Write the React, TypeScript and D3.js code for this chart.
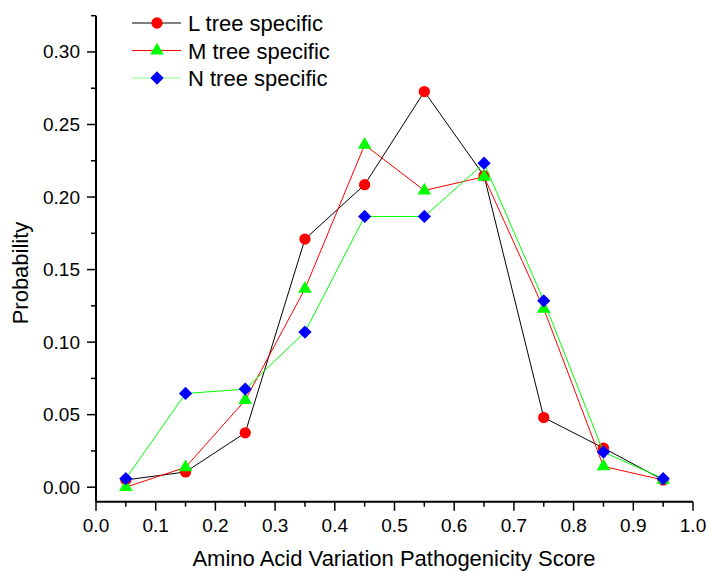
import React, { useEffect, useRef } from "react";
import * as d3 from "d3";

const xValues = [0.05, 0.15, 0.25, 0.35, 0.45, 0.55, 0.65, 0.75, 0.85, 0.95];
const lTree = [0.005, 0.0105, 0.0375, 0.171, 0.2085, 0.2727, 0.2146, 0.048, 0.027, 0.005];
const mTree = [0.0, 0.0137, 0.06, 0.1367, 0.236, 0.2045, 0.214, 0.123, 0.0143, 0.005];
const nTree = [0.0059, 0.0646, 0.0676, 0.1069, 0.1866, 0.1866, 0.2233, 0.1285, 0.0242, 0.0059];
const seriesNames = ["L tree specific", "M tree specific", "N tree specific"];
const xTicks = [0, 0.1, 0.2, 0.3, 0.4, 0.5, 0.6, 0.7, 0.8, 0.9, 1.0];
const yTicks = [0, 0.05, 0.1, 0.15, 0.2, 0.25, 0.3];

const W = 707;
const H = 571;

export default function App() {
  const ref = useRef<SVGSVGElement>(null);

  useEffect(() => {
    const svg = d3.select(ref.current);
    svg.selectAll("*").remove();

    const x = d3.scaleLinear().domain([0, 1]).range([96, 693]);
    const y = d3.scaleLinear().domain([-0.01, 0.325]).range([501.7, 15.7]);
    const font = "'Liberation Sans', Arial, sans-serif";

    // axes
    const yAxis = svg.append("g").attr("transform", "translate(96,0)");
    yAxis.append("line").attr("x1", 0).attr("x2", 0).attr("y1", y(0.325)).attr("y2", y(-0.01))
      .attr("stroke", "#000").attr("stroke-width", 2);
    d3.range(0, 0.326, 0.025).forEach(v => {
      const major = Math.round(v * 1000) % 50 === 0;
      yAxis.append("line").attr("x1", major ? -9 : -5).attr("x2", 0)
        .attr("y1", y(v)).attr("y2", y(v)).attr("stroke", "#000").attr("stroke-width", 1.5);
    });
    yTicks.forEach(v => {
      yAxis.append("text").attr("x", -16).attr("y", y(v) + 6.5)
        .attr("text-anchor", "end").attr("font-family", font).attr("font-size", 19)
        .text(d3.format(".2f")(v));
    });

    const xAxis = svg.append("g").attr("transform", "translate(0,501.7)");
    xAxis.append("line").attr("x1", x(0)).attr("x2", x(1)).attr("y1", 0).attr("y2", 0)
      .attr("stroke", "#000").attr("stroke-width", 2);
    d3.range(0, 1.001, 0.05).forEach(v => {
      const major = Math.round(v * 100) % 10 === 0;
      xAxis.append("line").attr("x1", x(v)).attr("x2", x(v)).attr("y1", 0).attr("y2", major ? 9 : 5)
        .attr("stroke", "#000").attr("stroke-width", 1.5);
    });
    xTicks.forEach(v => {
      xAxis.append("text").attr("x", x(v)).attr("y", 30)
        .attr("text-anchor", "middle").attr("font-family", font).attr("font-size", 19)
        .text(d3.format(".1f")(v));
    });

    svg.append("text").attr("x", 394).attr("y", 566).attr("text-anchor", "middle")
      .attr("font-family", font).attr("font-size", 22).text("Amino Acid Variation Pathogenicity Score");
    svg.append("text").attr("transform", "translate(28,273) rotate(-90)").attr("text-anchor", "middle")
      .attr("font-family", font).attr("font-size", 22).text("Probability");

    const series = [
      { values: lTree, line: "#000000", fill: "#ff0000", sym: d3.symbolCircle, size: 100, rot: 0 },
      { values: mTree, line: "#ff0000", fill: "#00ff00", sym: d3.symbolTriangle, size: 80, rot: 0 },
      { values: nTree, line: "#00ff00", fill: "#0000ff", sym: d3.symbolSquare, size: 88, rot: 45 },
    ];

    const lineGen = d3.line<number>().x((_, i) => x(xValues[i])).y(d => y(d));

    series.forEach((s, si) => {
      const g = svg.append("g");
      g.append("path").attr("d", lineGen(s.values)).attr("fill", "none")
        .attr("stroke", s.line).attr("stroke-width", 1);
      g.selectAll("path.m").data(s.values).join("path").attr("class", "m")
        .attr("transform", (d, i) => `translate(${x(xValues[i])},${y(d)}) rotate(${s.rot})`)
        .attr("d", d3.symbol().type(s.sym).size(s.size)())
        .attr("fill", s.fill);

      // legend
      const ly = 23 + si * 27.5;
      svg.append("line").attr("x1", 132).attr("x2", 181).attr("y1", ly).attr("y2", ly)
        .attr("stroke", si === 2 ? "#80ff80" : s.line).attr("stroke-width", 1);
      svg.append("path").attr("transform", `translate(157,${ly}) rotate(${s.rot})`)
        .attr("d", d3.symbol().type(s.sym).size(s.size)()).attr("fill", s.fill);
      svg.append("text").attr("x", 188).attr("y", ly + 8).attr("font-family", font)
        .attr("font-size", 22).text(seriesNames[si]);
    });
  }, []);

  return (
    <svg ref={ref} width={W} height={H} style={{ position: "absolute", left: 0, top: 0, background: "#fff" }} />
  );
}
